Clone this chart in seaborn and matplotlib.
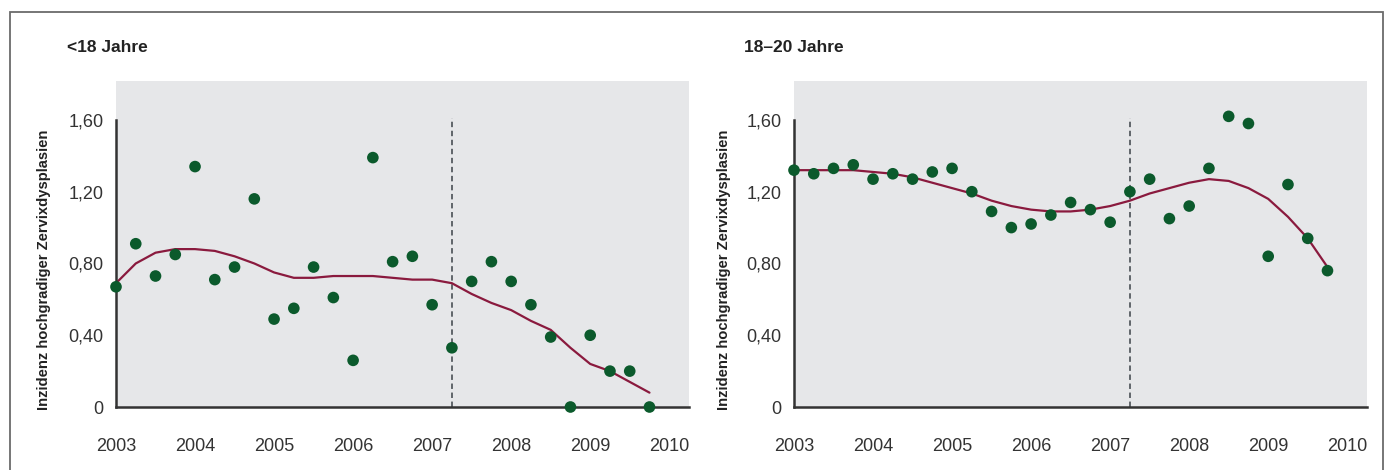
import seaborn as sns
import pandas as pd
import matplotlib.pyplot as plt
from matplotlib.patches import Rectangle

# quartale 2003.00 ... 2009.75
quartal = [2003 + i / 4 for i in range(28)]

# <18 Jahre: punkte und glättungskurve
u18_punkte = [0.67, 0.91, 0.73, 0.85, 1.34, 0.71, 0.78, 1.16,
              0.49, 0.55, 0.78, 0.61, 0.26, 1.39, 0.81, 0.84,
              0.57, 0.33, 0.70, 0.81, 0.70, 0.57, 0.39, 0.00,
              0.40, 0.20, 0.20, 0.00]
u18_kurve = [0.69, 0.80, 0.86, 0.88, 0.88, 0.87, 0.84, 0.80,
             0.75, 0.72, 0.72, 0.73, 0.73, 0.73, 0.72, 0.71,
             0.71, 0.69, 0.63, 0.58, 0.54, 0.48, 0.43, 0.33,
             0.24, 0.20, 0.14, 0.08]

# 18-20 Jahre
j1820_punkte = [1.32, 1.30, 1.33, 1.35, 1.27, 1.30, 1.27, 1.31,
                1.33, 1.20, 1.09, 1.00, 1.02, 1.07, 1.14, 1.10,
                1.03, 1.20, 1.27, 1.05, 1.12, 1.33, 1.62, 1.58,
                0.84, 1.24, 0.94, 0.76]
j1820_kurve = [1.32, 1.32, 1.32, 1.32, 1.31, 1.30, 1.28, 1.25,
               1.22, 1.19, 1.15, 1.12, 1.10, 1.09, 1.09, 1.10,
               1.12, 1.15, 1.19, 1.22, 1.25, 1.27, 1.26, 1.22,
               1.16, 1.06, 0.94, 0.78]

titel = ['<18 Jahre', '18–20 Jahre']
ylabel = 'Inzidenz hochgradiger Zervixdysplasien'
yticks = [0, 0.4, 0.8, 1.2, 1.6]
ytick_labels = ['0', '0,40', '0,80', '1,20', '1,60']
xticks = list(range(2003, 2011))
stichtag = 2007.25

sns.set_style('white', {'axes.facecolor': '#e6e7e9'})
plt.rcParams['font.family'] = ['Liberation Sans', 'DejaVu Sans']

fig = plt.figure(figsize=(13.89, 4.70), dpi=100)
fig.patches.append(Rectangle((10 / 1389, -0.1), 1373 / 1389, 1.1 - 12 / 470,
                             transform=fig.transFigure, fill=False,
                             edgecolor='#6b6b6b', linewidth=1.3))

achsen = [fig.add_axes([116 / 1389, 1 - 407 / 470, 573 / 1389, 326 / 470]),
          fig.add_axes([794 / 1389, 1 - 407 / 470, 573 / 1389, 326 / 470])]
daten = [(u18_punkte, u18_kurve), (j1820_punkte, j1820_kurve)]
ylab_x = [44, 724]
titel_x = [67, 744]

for ax, (punkte, kurve), t, lx, tx in zip(achsen, daten, titel, ylab_x, titel_x):
    df = pd.DataFrame({'Quartal': quartal, 'Punkte': punkte, 'Kurve': kurve})
    ax.vlines(stichtag, 0, 1.61, colors='#555b60', linestyles=(0, (3, 2)), linewidth=1.3, zorder=1)
    sns.lineplot(data=df, x='Quartal', y='Kurve', color='#8a1a3e', linewidth=1.6, ax=ax, zorder=2)
    sns.scatterplot(data=df, x='Quartal', y='Punkte', color='#0b5a2c', s=70, edgecolor='none',
                    ax=ax, zorder=3, clip_on=False)

    ax.set_xlim(2003, 2010.25)
    ax.set_ylim(0, 1.817)
    ax.set_xticks(xticks)
    ax.set_xticklabels([str(x) for x in xticks])
    ax.set_yticks(yticks)
    ax.set_yticklabels(ytick_labels)
    ax.set_xlabel('')
    ax.set_ylabel('')

    for s in ['top', 'right']:
        ax.spines[s].set_visible(False)
    for s in ['left', 'bottom']:
        ax.spines[s].set_color('#333333')
        ax.spines[s].set_linewidth(1.8)
    ax.spines['left'].set_bounds(0, 1.6)
    ax.tick_params(axis='both', direction='out', color='#333333', width=1.6,
                   labelsize=13, labelcolor='#333333')
    ax.tick_params(axis='x', length=7, pad=15)
    ax.tick_params(axis='y', length=6, pad=3)

    fig.text(lx / 1389, 1 - 270 / 470, ylabel, rotation=90, ha='center', va='center',
             fontsize=10.6, fontweight='bold', color='#222222')
    fig.text(tx / 1389, 1 - 48 / 470, t, ha='left', va='center',
             fontsize=12.5, fontweight='bold', color='#222222')

fig.savefig('out.png', dpi=100)
